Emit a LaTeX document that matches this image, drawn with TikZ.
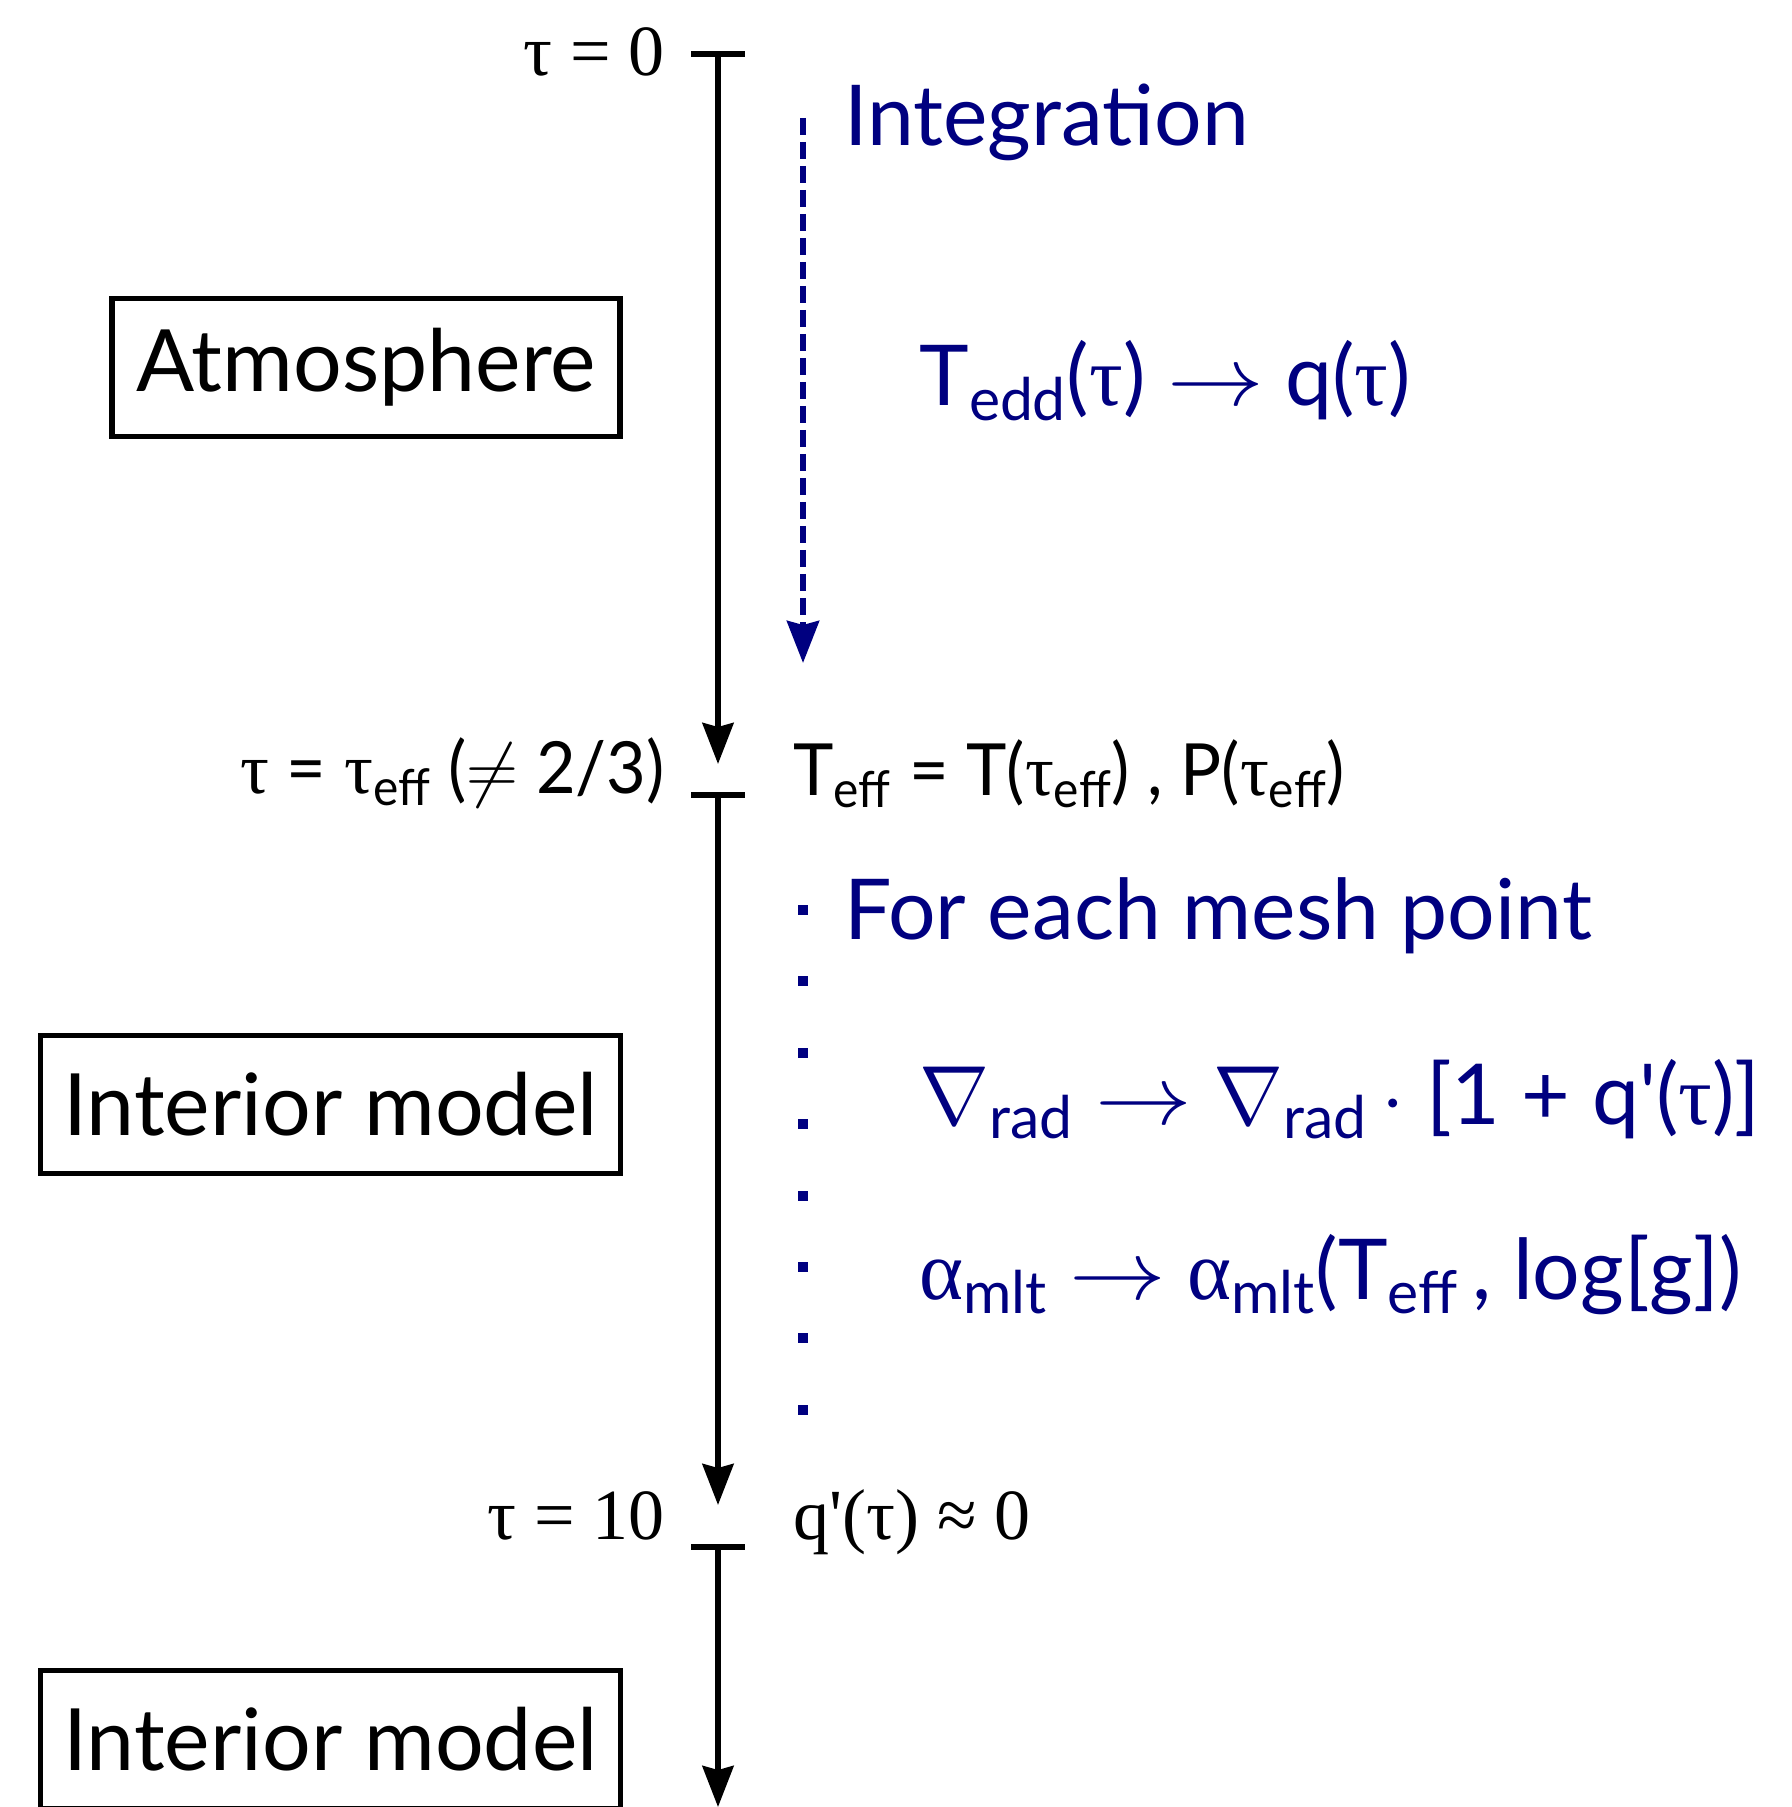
\documentclass[tikz,border=0pt]{standalone}
\usepackage{fix-cm}
\usepackage{amsmath}
\usepackage{fontspec}
\setmainfont{Lato}
\newfontfamily\seriffont{Liberation Serif}
\newfontfamily\condfont[FakeStretch=0.95]{Lato}
\usetikzlibrary{arrows.meta,positioning}
\definecolor{IntClr}{rgb}{0,0,0.5}
\newcommand{\lsub}[1]{\ensuremath{_{\text{#1}}}}
\newcommand{\tauq}{{\seriffont τ}}
\newcommand{\alphaq}{{\seriffont α}}
\newcommand{\toarr}{\scalebox{1.15}[1]{$\rightarrow$}}

\begin{document}
\begin{tikzpicture}[x=50pt,y=50pt,
  axis/.style={line width=2.8pt,-{Stealth[length=20.5pt,width=15.5pt,inset=2pt]}},
  tick/.style={line width=3pt},
  bigbox/.style={draw,line width=2.6pt,minimum height=69pt,inner sep=0pt,
    font=\fontsize{43}{47}\selectfont},
  lbl/.style={inner sep=0pt,font=\condfont\fontsize{36}{40}\selectfont},
  lbl serif/.style={inner sep=0pt,font=\seriffont\fontsize{36}{40}\selectfont},
  blue head/.style={inner sep=0pt,text=IntClr,font=\fontsize{42}{46}\selectfont},
  blue eq/.style={inner sep=0pt,text=IntClr,font=\fontsize{42}{46}\selectfont},
  flow/.style={IntClr,line width=3pt,dash pattern=on 8.5pt off 3.5pt,
    -{Stealth[length=21pt,width=16pt,inset=2pt]}}]

\clip (0,0) rectangle (17.91,-18.07);

% optical depth axis
\coordinate (t0) at (7.18,-0.537);
\coordinate (a1) at (7.18,-7.64);
\coordinate (t1) at (7.18,-7.945);
\coordinate (a2) at (7.18,-15.05);
\coordinate (t2) at (7.18,-15.47);
\coordinate (a3) at (7.18,-18.07);

\foreach \t in {t0,t1,t2}
  \draw[tick] ([xshift=-13.5pt]\t) -- ([xshift=13.5pt]\t);
\draw[axis] (t0) -- (a1);
\draw[axis] (t1) -- (a2);
\draw[axis] (t2) -- (a3);

% regions
\node[bigbox,minimum width=254pt] (atmo) at (3.66,-3.675) {Atmosphere};
\node[bigbox,minimum width=290pt] (int1) at (3.305,-11.045) {Interior model};
\node[bigbox,minimum width=290pt] (int2) at (3.305,-17.395) {Interior model};

% labels at the boundaries
\node[lbl serif,anchor=base east] (tau0) at (6.65,-0.76) {τ = 0};
\node[lbl,anchor=base east] (taueff) at (6.65,-7.93) {\tauq\ = \tauq\lsub{eff} ($\neq$ 2/3)};
\node[lbl,anchor=base west] (teff) at (7.93,-7.95) {T\lsub{eff} = T(\tauq\lsub{eff}) , P(\tauq\lsub{eff})};
\node[lbl serif,anchor=base east] (tau10) at (6.65,-15.39) {τ = 10};
\node[lbl serif,anchor=base west] (qzero) at (7.93,-15.39) {q\textquotesingle(τ) ≈ 0};

% integration of the atmosphere
\coordinate (f0) at (8.03,-1.18);
\coordinate (f1) at (8.03,-6.63);
\draw[flow] (f0) -- (f1);
\node[blue head,anchor=base west] (integ) at (8.44,-1.46) {Integration};
\node[blue eq,anchor=base west] (tedd) at (9.19,-4.06) {T\lsub{edd}(\tauq) \toarr\ q(\tauq)};

% interior mesh
\foreach \i in {0,...,7}
  \fill[IntClr] (7.98,{-9.05-0.714*\i}) rectangle ++(0.10,-0.10);
\node[blue head,anchor=base west] (mesh) at (8.44,-9.39) {For each mesh point};
\node[blue eq,anchor=base west] (grad) at (9.19,-11.24) {$\nabla$\lsub{rad} \toarr\ $\nabla$\lsub{rad}$\,\cdot$ [1 + q\textquotesingle(\tauq)]};
\node[blue eq,anchor=base west] (amlt) at (9.19,-12.99) {\alphaq\lsub{mlt} \toarr\ \alphaq\lsub{mlt}(T\lsub{eff}\,, log[g])};

\end{tikzpicture}
\end{document}
